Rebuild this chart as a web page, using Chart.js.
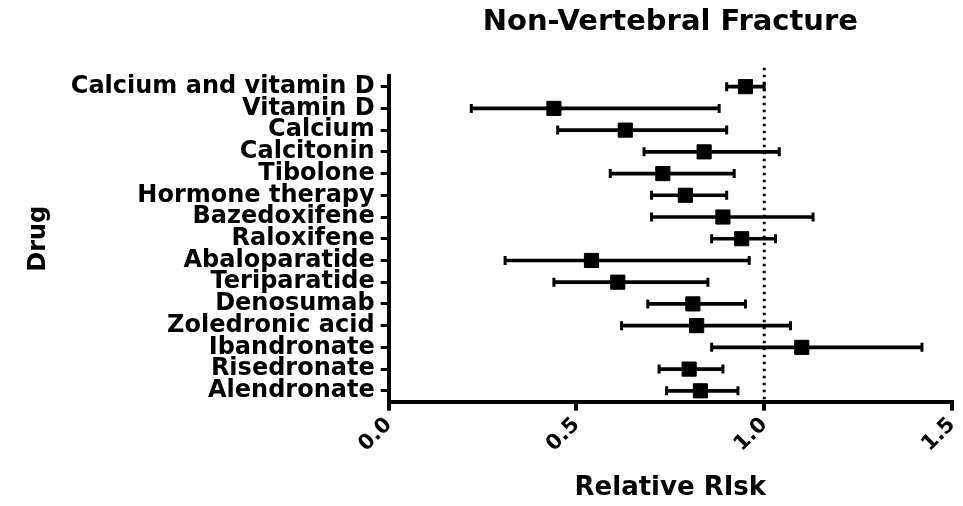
<!DOCTYPE html>
<html>
<head>
<meta charset="utf-8">
<script src="https://cdn.jsdelivr.net/npm/chart.js@4.4.0/dist/chart.umd.min.js"></script>
<style>
  html, body { margin: 0; padding: 0; background: #fff; }
  #wrap { width: 963px; height: 506px; }
</style>
</head>
<body>
<div id="wrap"><canvas id="chart"></canvas></div>
<script>
// forest plot data, top row first
var drugs = ['Calcium and vitamin D', 'Vitamin D', 'Calcium', 'Calcitonin', 'Tibolone',
  'Hormone therapy', 'Bazedoxifene', 'Raloxifene', 'Abaloparatide', 'Teriparatide',
  'Denosumab', 'Zoledronic acid', 'Ibandronate', 'Risedronate', 'Alendronate'];
var rr    = [0.95, 0.44, 0.63, 0.84, 0.73, 0.79, 0.89, 0.94, 0.54, 0.61, 0.81, 0.82, 1.10, 0.80, 0.83];
var lower = [0.90, 0.22, 0.45, 0.68, 0.59, 0.70, 0.70, 0.86, 0.31, 0.44, 0.69, 0.62, 0.86, 0.72, 0.74];
var upper = [1.00, 0.88, 0.90, 1.04, 0.92, 0.90, 1.13, 1.03, 0.96, 0.85, 0.95, 1.07, 1.42, 0.89, 0.93];
var xTicks = [0, 0.5, 1.0, 1.5];
var nullValue = 1.0;

var FONT = '"DejaVu Sans", Verdana, Arial, sans-serif';
Chart.defaults.font.family = FONT;
Chart.defaults.color = '#000';

// dotted line at RR = 1
var refLine = {
  id: 'refLine',
  beforeDatasetsDraw: function(chart) {
    var ctx = chart.ctx;
    var x = chart.scales.x.getPixelForValue(nullValue);
    ctx.save();
    ctx.strokeStyle = '#000';
    ctx.lineWidth = 3;
    ctx.setLineDash([2.5, 4.5]);
    ctx.beginPath();
    ctx.moveTo(x, chart.chartArea.top - 8);
    ctx.lineTo(x, chart.chartArea.bottom);
    ctx.stroke();
    ctx.restore();
  }
};

var caps = lower.map(function(v, i) { return {x: v, y: drugs[i]}; })
  .concat(upper.map(function(v, i) { return {x: v, y: drugs[i]}; }));

new Chart(document.getElementById('chart'), {
  type: 'bar',
  data: {
    labels: drugs,
    datasets: [
      {
        type: 'bar',
        data: drugs.map(function(d, i) { return [lower[i], upper[i]]; }),
        backgroundColor: '#000',
        borderWidth: 0,
        barThickness: 3
      },
      {
        type: 'scatter',
        data: caps,
        pointStyle: 'line',
        rotation: 90,
        radius: 4.5,
        borderWidth: 3,
        borderColor: '#000'
      },
      {
        type: 'scatter',
        data: rr.map(function(v, i) { return {x: v, y: drugs[i]}; }),
        pointStyle: 'rect',
        radius: 10,
        borderWidth: 1,
        borderColor: '#000',
        backgroundColor: '#000'
      }
    ]
  },
  options: {
    indexAxis: 'y',
    responsive: true,
    maintainAspectRatio: false,
    animation: false,
    layout: { padding: { left: 12, right: 10, top: 0, bottom: 0 } },
    plugins: {
      legend: { display: false },
      tooltip: { enabled: false },
      title: { display: false }
    },
    scales: {
      x: {
        type: 'linear',
        min: 0,
        max: 1.5,
        afterBuildTicks: function(scale) {
          scale.ticks = xTicks.map(function(v) { return {value: v}; });
        },
        afterFit: function(scale) {
          scale.paddingRight = 0;   // rotated labels don't need room on the right
        },
        ticks: {
          font: { size: 21, weight: 'bold' },
          minRotation: 45,
          maxRotation: 45,
          padding: 2,
          callback: function(v) { return Number(v).toFixed(1); }
        },
        grid: { drawOnChartArea: false, drawTicks: true, tickLength: 9, lineWidth: 4, color: '#000' },
        border: { display: true, width: 4, color: '#000' },
        title: {
          display: true,
          text: 'Relative RIsk',
          font: { size: 26, weight: 'bold' },
          padding: { top: 14, bottom: 2 }
        }
      },
      x2: {
        type: 'linear',
        position: 'top',
        min: 0,
        max: 1.5,
        ticks: { display: false },
        grid: { display: false, drawTicks: false },
        border: { display: false },
        title: {
          display: true,
          text: 'Non-Vertebral Fracture',
          font: { size: 29, weight: 'bold' },
          padding: { top: 5, bottom: 36 }
        }
      },
      y: {
        type: 'category',
        labels: drugs,
        offset: true,
        ticks: {
          font: { size: 24, weight: 'bold' },
          padding: 6,
          autoSkip: false
        },
        grid: { offset: false, drawOnChartArea: false, drawTicks: true, tickLength: 8, lineWidth: 3, color: '#000' },
        border: { display: true, width: 4, color: '#000' },
        title: {
          display: true,
          text: 'Drug',
          font: { size: 24, weight: 'bold' },
          padding: { top: 12, bottom: 12 }
        }
      }
    }
  },
  plugins: [refLine]
});
</script>
</body>
</html>
